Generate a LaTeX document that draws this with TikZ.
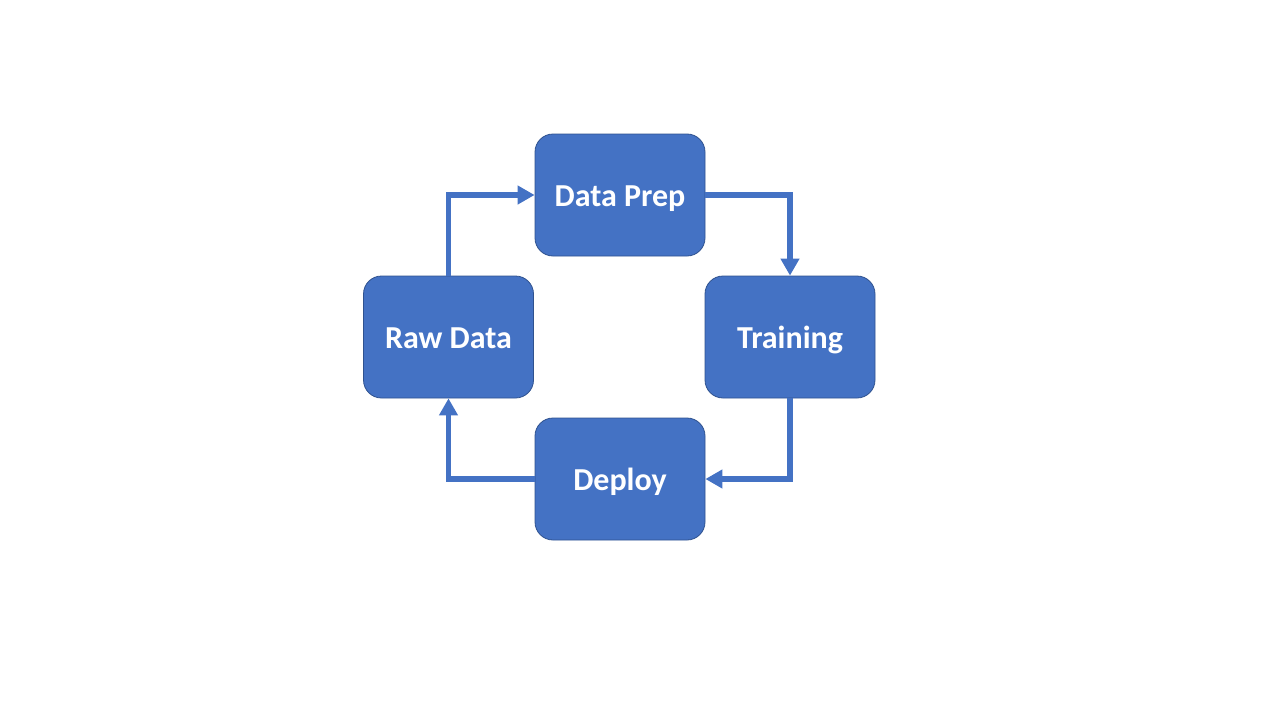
\documentclass[tikz,border=0pt]{standalone}
\usepackage{fontspec}
\setmainfont{Carlito}
\usetikzlibrary{arrows.meta}
\definecolor{boxblue}{HTML}{4472C4}
\definecolor{boxedge}{HTML}{2F528F}
\begin{document}
\begin{tikzpicture}[x=1pt,y=-1pt,
  stage/.style={rectangle, rounded corners=18pt, fill=boxblue, draw=boxedge, line width=0.8pt,
    minimum width=170pt, minimum height=122pt, inner sep=0pt, text height=24.5pt, text depth=1pt,
    text=white, font=\fontsize{32}{38}\selectfont\bfseries},
  flow/.style={draw=boxblue, line width=5.5pt, -{Triangle[length=17pt,width=18pt]}}]
\useasboundingbox (0,0) rectangle (1280,720);
\node[stage] (prep) at (620,195) {Data Prep};
\node[stage] (raw) at (448.5,337) {Raw Data};
\node[stage] (train) at (790,337) {Training};
\node[stage] (deploy) at (620,479) {Deploy};
\draw[flow] (raw.north) |- (prep.west);
\draw[flow] (prep.east) -| (train.north);
\draw[flow] (train.south) |- (deploy.east);
\draw[flow] (deploy.west) -| (raw.south);
\end{tikzpicture}
\end{document}
